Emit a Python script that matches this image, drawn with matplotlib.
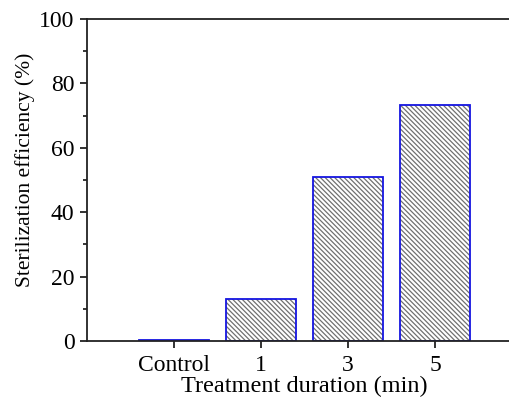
import matplotlib
matplotlib.use("Agg")
import matplotlib.pyplot as plt
from matplotlib.ticker import MultipleLocator

categories = ["Control", "1", "3", "5"]
efficiency = [0.2, 13.0, 50.9, 73.4]

plt.rcParams['font.family'] = ['Liberation Serif', 'DejaVu Serif']
plt.rcParams['hatch.linewidth'] = 0.9

fig = plt.figure(figsize=(5.10, 4.01), dpi=100)
ax = fig.add_axes([87/510, 60/401, 435/510, 322/401])

x = list(range(len(categories)))
ax.bar(x, efficiency, width=0.8, facecolor='white', edgecolor='#707070',
       hatch='\\' * 7, linewidth=0)
ax.bar(x, efficiency, width=0.8, fill=False, edgecolor='#1515e0', linewidth=1.3)

ax.set_xlim(-1, 4)
ax.set_ylim(0, 100)
ax.set_xticks(x)
ax.set_xticklabels(categories)
ax.yaxis.set_major_locator(MultipleLocator(20))
ax.yaxis.set_minor_locator(MultipleLocator(10))

for s in ax.spines.values():
    s.set_linewidth(1.3)
    s.set_color('#222222')

ax.tick_params(axis='both', which='major', direction='out', length=5, width=1.3,
               labelsize=17, color='#222222')
ax.tick_params(axis='y', which='major', pad=4)
ax.tick_params(axis='y', which='minor', direction='out', length=3, width=1.1)
ax.tick_params(axis='x', which='major', pad=5)

ax.set_xlabel('Treatment duration (min)', fontsize=17.5, labelpad=0)
ax.set_ylabel('Sterilization efficiency (%)', fontsize=15.5, labelpad=4)
ax.yaxis.set_label_coords(-52/435, 0.531)

fig.savefig('out.png', dpi=100)
